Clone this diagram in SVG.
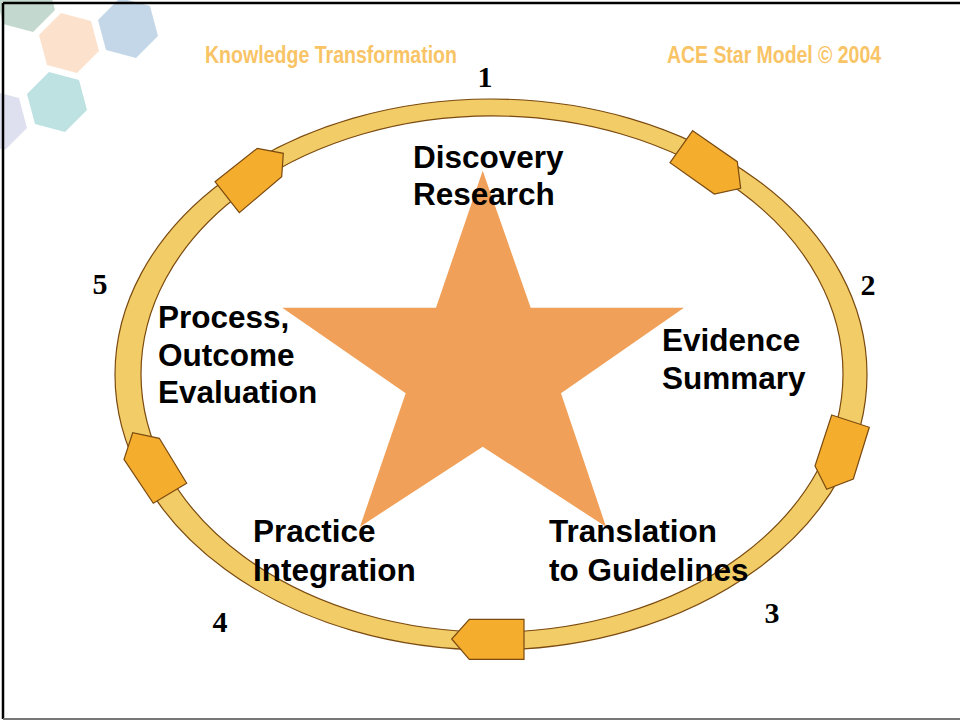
<svg xmlns="http://www.w3.org/2000/svg" width="960" height="721" viewBox="0 0 960 721">
<style>
.lbl{font-family:"Liberation Sans",Arial,sans-serif;font-weight:bold;font-size:31.5px;fill:#000}
.num{font-family:"Liberation Serif","Times New Roman",serif;font-weight:bold;font-size:30px;fill:#000;text-anchor:middle}
.hdr{font-family:"Liberation Sans",Arial,sans-serif;font-weight:bold;font-size:20px;fill:#F8C466}
.arr{fill:#F5AD2E;stroke:#7A4A10;stroke-width:1.2;stroke-linejoin:miter}
.hex{opacity:0.85}
</style>
<rect x="0" y="0" width="960" height="721" fill="#fff"/>
<g id="decor">
<polygon class="hex" fill="#B9D1C6" points="-4,-6 17,-28 47,-20 55,10 33,32 3,24"/>
<polygon class="hex" fill="#FBDCC4" points="39,35 61,13 91,21 99,51 77,73 47,65"/>
<polygon class="hex" fill="#BAD0E4" points="98,20 120,-2 150,6 158,36 136,58 106,50"/>
<polygon class="hex" fill="#B3DCDD" points="27,94 49,72 79,80 87,110 65,132 35,124"/>
<polygon class="hex" fill="#D9DBEC" points="-33,112 -11,90 19,98 27,128 5,150 -25,142"/>
</g>
<g id="header">
<text class="hdr" transform="translate(205,63) scale(1,1.15)" x="0" y="0" textLength="252" lengthAdjust="spacingAndGlyphs">Knowledge Transformation</text>
<text class="hdr" transform="translate(667,63) scale(1,1.15)" x="0" y="0" textLength="214" lengthAdjust="spacingAndGlyphs">ACE Star Model © 2004</text>
</g>
<g id="cycle-ring">
<path d="M115,374.5 A376,275.5 0 1,0 867,374.5 A376,275.5 0 1,0 115,374.5 Z M141,374 A351,258 0 1,1 843,374 A351,258 0 1,1 141,374 Z" fill="#F2CC66" fill-rule="evenodd" stroke="#7A4A10" stroke-width="1.2"/>
</g>
<g id="star">
<polygon fill="#F0A058" points="482.7,170.7 530.7,307.7 684,307.7 561,393.3 606,526.7 482.7,446.7 360,526.7 405.7,393.3 282.3,307.7 436,307.7"/>
</g>
<g id="connectors">
<polygon id="arrow-1-2" class="arr" points="692.7,130.7 737.3,161.7 740.7,188.3 714.3,194 670,162.7"/>
<polygon id="arrow-2-3" class="arr" points="831.7,415 869.3,427.3 853.3,479 826.7,489.3 815,466"/>
<polygon id="arrow-3-4" class="arr" points="524,619.3 524,659.3 469.3,659.3 451.7,639 469.3,619.3"/>
<polygon id="arrow-4-5" class="arr" points="186.7,483.3 153.3,503.3 124,459.3 132.7,432.7 159.3,438.3"/>
<polygon id="arrow-5-1" class="arr" points="215,181.7 257.3,148.3 283.3,153.3 281.7,176.7 239.3,212.7"/>
</g>
<g id="node-1">
<text class="num" x="485" y="87">1</text>
<text class="lbl" x="413" y="168">Discovery</text>
<text class="lbl" x="413" y="205">Research</text>
</g>
<g id="node-2">
<text class="num" x="868" y="295">2</text>
<text class="lbl" x="662" y="351">Evidence</text>
<text class="lbl" x="662" y="389">Summary</text>
</g>
<g id="node-3">
<text class="num" x="772" y="623">3</text>
<text class="lbl" x="549" y="542">Translation</text>
<text class="lbl" x="549" y="581">to Guidelines</text>
</g>
<g id="node-4">
<text class="num" x="220" y="632">4</text>
<text class="lbl" x="253" y="542">Practice</text>
<text class="lbl" x="253" y="581">Integration</text>
</g>
<g id="node-5">
<text class="num" x="100" y="294">5</text>
<text class="lbl" x="158" y="328">Process,</text>
<text class="lbl" x="158" y="366">Outcome</text>
<text class="lbl" x="158" y="403">Evaluation</text>
</g>
<g id="frame">
<line x1="3" y1="3" x2="960" y2="3" stroke="#000" stroke-width="2.5"/>
<line x1="3" y1="3" x2="3" y2="719" stroke="#000" stroke-width="2.5"/>
<line x1="3" y1="719" x2="960" y2="719" stroke="#777" stroke-width="2"/>
</g>
</svg>
